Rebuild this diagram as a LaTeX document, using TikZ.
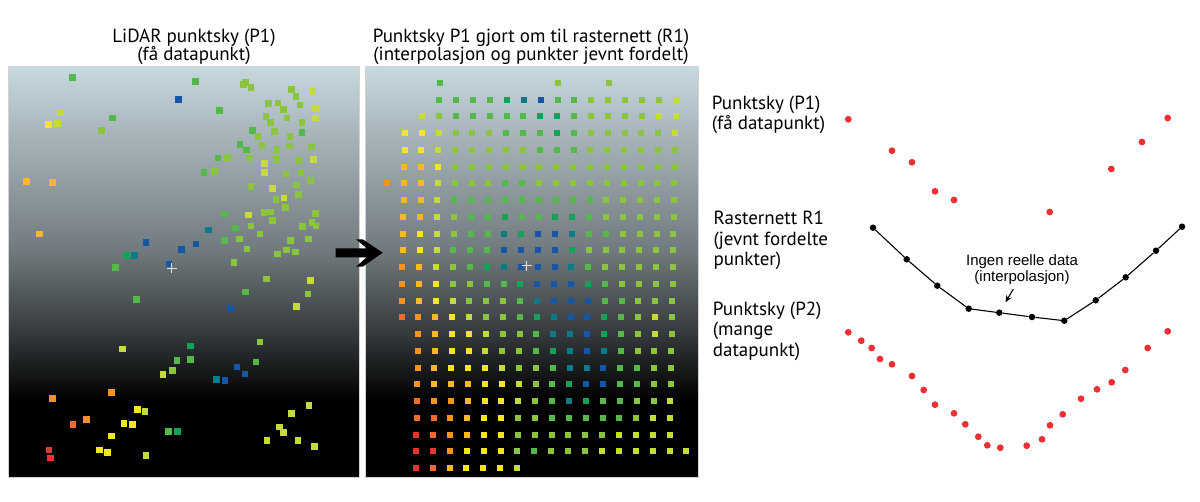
\documentclass[tikz,border=0pt]{standalone}
\usepackage{fontspec}
\setmainfont{PT Sans}
\newfontfamily\helv{Liberation Sans}
\usepackage{tikz}
\usetikzlibrary{arrows.meta}
\definecolor{cR}{HTML}{E8342E}
\definecolor{cO}{HTML}{F26A2C}
\definecolor{cA}{HTML}{F7931E}
\definecolor{cM}{HTML}{FBB72B}
\definecolor{cY}{HTML}{F3E524}
\definecolor{cW}{HTML}{C6DB3A}
\definecolor{cL}{HTML}{8BC540}
\definecolor{cG}{HTML}{55B949}
\definecolor{cE}{HTML}{12A358}
\definecolor{cT}{HTML}{0C7A87}
\definecolor{cB}{HTML}{1556A6}
\definecolor{skytop}{HTML}{C7D8DF}
\definecolor{skymid}{HTML}{717A7E}
\definecolor{skylow}{HTML}{33383B}
\definecolor{dotred}{HTML}{EE3035}
\tikzset{
  panelframe/.style = {draw=gray!35,line width=0.8pt},
  titletext/.style  = {font=\fontsize{19}{18.5}\selectfont,align=center,inner sep=0pt},
  sidetext/.style   = {font=\fontsize{19}{20.5}\selectfont,align=left,inner sep=0pt,anchor=west},
  notetext/.style   = {font=\helv\fontsize{15}{16.7}\selectfont,align=center,inner sep=0pt},
  rasterdot/.style  = {circle,fill=black,minimum size=6.5pt,inner sep=0pt},
  notearr/.style    = {-{Stealth[length=7pt,width=6pt]},line width=1.1pt},
  crosshair/.style  = {white!75!gray,line width=0.8pt}
}
\newcommand{\lidarsq}[3]{\fill[c#3] (#1-3.25,#2-3.25) rectangle ++(6.5,6.5);}
\newcommand{\gridsq}[3]{\fill[c#3] ({388.5+16.9*(#2)-0.3*(#1)-3},{99.5+16.75*(#1)-3}) rectangle ++(6,6);}
\newcommand{\skypanel}[2]{%
  \shade[top color=skytop,bottom color=skymid] (#1,66) rectangle (#2,250);
  \shade[top color=skymid,bottom color=skylow] (#1,250) rectangle (#2,335);
  \shade[top color=skylow,bottom color=black] (#1,335) rectangle (#2,400);
  \fill[black] (#1,400) rectangle (#2,477);
  \draw[panelframe] (#1,66) rectangle (#2,477);
}

\begin{document}
\begin{tikzpicture}[x=1pt,y=-1pt]
  \useasboundingbox (0,0) rectangle (1200,501);
  \skypanel{8.3}{359}
  \skypanel{365.5}{698.3}

  \node[titletext] (title1) at (194,47) {LiDAR punktsky (P1)\\(få datapunkt)};
  \node[titletext] (title2) at (531,47) {Punktsky P1 gjort om til rasternett (R1)\\(interpolasjon og punkter jevnt fordelt)};

  % P1: scattered points
  \foreach \x/\y/\k in {72.3/77.7/G,195.7/81.3/G,178.3/99.3/B,243.3/84.7/L,245.3/82.7/L,251/87.7/L,
      291.7/89.3/L,312.7/91.3/W,296/96.3/L,268.7/103.7/L,278/103/L,283.7/109.7/L,300/105/L,
      315.3/109/W,219.3/110.3/G,266/116.3/L,287/118/L,315.3/118/W,270.7/122.7/L,302/122.7/L,
      60.3/112.3/W,112.7/118/G,48.3/124.7/Y,57.7/123.3/W,101.7/130.3/L,252.7/130.7/G,258/136.3/L,
      274.7/131.7/L,290/136.3/L,302/132.3/G,240/144.3/G,262/145.7/L,246.3/150/G,277/149.7/L,
      289.3/146/L,311.3/147/L,218/158/G,227.3/157.7/L,249.3/158/L,276.3/159.3/L,299/160.7/L,
      313.7/159.3/W,264.3/163.3/W,204/172.3/G,214.7/171.7/L,264.3/172.3/W,286/174/L,301/172.7/L,
      310.7/180.7/L,26.7/181.7/M,52.7/182.7/M,251/186.3/L,272.7/188.7/W,296.7/185/L,298.3/194.3/L,
      276/199.3/L,284/198/W,285.7/207.7/L,224.7/214/G,248.3/215/W,264/212.3/L,270.7/212/L,
      315.3/213.7/L,272.7/220.3/L,208.7/230/T,235.7/228/G,251/226/L,302.7/226.7/L,312/222.7/L,
      316/226/L,39.3/234/M,260/234/L,146/242.7/B,196/244/B,224.3/240.3/G,239.3/239/L,290.7/240.3/L,
      308.7/239/L,181.3/249.3/B,247/249/L,277.3/254/L,286.7/250/L,295.3/252/L,126.3/255.3/E,
      134.3/255.7/T,169/264/B,115.7/267.3/G,234/262.3/L,266.3/279/L,310.3/280.7/W,245.7/292/G,
      308/294/L,136.3/299.3/G,230.7/308.3/B,296.3/306.3/W,260/342/L,122.3/349/W,190.7/346/E,
      177/360.3/G,190.7/359.7/G,256/362/G,163/374.7/W,172.3/370.7/L,237/367/B,245/374/B,
      216.7/379.7/T,225/380.3/B,52.3/398.3/A,111.3/392.7/A,309/405.7/W,291.7/413.7/W,137.3/409.3/Y,
      145/411.7/W,86.3/419.7/A,73/424.3/O,124/423.7/Y,132.7/424.7/Y,168.7/431.3/G,177.7/431.3/E,
      279.3/427/W,283.7/432.7/W,111.7/436/Y,267/440.3/W,298/440.7/W,314.3/446.7/W,49/450/R,
      50.7/458/R,99.3/450/Y,107.3/452.3/Y,146/455.7/W}
    {\lidarsq{\x}{\y}{\k}}
  \draw[crosshair] (166.7,268.3) -- (176.7,268.3) (171.7,263.3) -- (171.7,273.3);

  % R1: raster grid
  \gridsq{-1}{3}{G} \gridsq{-1}{10}{L} \gridsq{-1}{13}{L}
  \foreach \r/\c/\row in {
      0/3/{G,G,G,G,E,T,B,G,G,L,L,L,L,L,W},
      1/2/{W,L,G,G,G,G,G,E,E,G,L,L,L,L,W,W},
      2/1/{Y,Y,W,L,L,L,G,G,G,E,G,L,L,L,L,L,W},
      3/1/{Y,Y,W,L,L,L,L,L,G,G,G,L,L,L,L,L,L},
      4/1/{M,M,Y,L,L,L,L,L,L,L,L,L,L,L,L,L,L},
      5/0/{A,M,M,W,L,L,L,G,G,L,L,L,L,L,L,L,L,L},
      6/1/{M,M,W,G,G,G,G,G,G,G,G,G,L,L,L,L,L},
      7/1/{M,M,W,L,G,G,E,G,G,E,E,G,L,L,L,L,L},
      8/1/{M,Y,W,L,G,G,T,E,B,B,T,G,G,L,L,L,L},
      9/1/{M,Y,W,G,G,G,B,B,B,B,E,L,L,L,L,L,L},
      10/1/{A,M,W,L,G,E,T,B,B,B,T,G,L,L,L,L,L},
      11/1/{A,M,Y,L,L,G,G,E,B,B,B,E,G,L,L,L,L},
      12/1/{A,M,Y,W,L,L,L,G,T,B,B,B,G,G,L,L,L},
      13/1/{O,A,M,Y,W,L,L,G,E,T,B,B,E,G,L,W,L},
      14/2/{A,M,Y,Y,W,L,L,G,T,T,B,E,G,L,W,L},
      15/2/{A,M,Y,Y,W,L,L,G,E,T,B,T,G,L,L,L},
      16/2/{A,M,Y,Y,Y,W,L,L,G,T,T,B,G,G,L,L},
      17/2/{A,M,M,M,Y,Y,W,L,G,E,B,B,G,G,L,L},
      18/2/{O,A,A,M,Y,Y,W,L,G,T,E,G,G,L,L,W},
      19/2/{O,O,A,M,Y,Y,L,L,G,G,G,G,G,L,W,W},
      20/2/{R,O,A,M,Y,Y,L,L,L,L,L,L,W,W,W,W},
      21/2/{R,R,A,Y,Y,Y,L,G,L,L,L,W,W,W,W,W,W},
      22/2/{R,O,M,Y,Y,Y,W}}
    \foreach \k [count=\i from 0] in \row {\gridsq{\r}{\c+\i}{\k}};
  \draw[crosshair] (521.7,265.7) -- (531.7,265.7) (526.7,260.7) -- (526.7,270.7);

  \fill[black] (335.7,248.3) -- (366.7,248.3) -- (356,239.3) -- (362.7,239.3) -- (382.7,252.7)
    -- (362.7,266.7) -- (356,266.7) -- (366.7,257.3) -- (335.7,257.3) -- cycle;

  % profile sketch
  \node[sidetext] (p1txt) at (711.7,115) {Punktsky (P1)\\(få datapunkt)};
  \node[sidetext] (r1txt) at (713.3,240.5) {Rasternett R1\\(jevnt fordelte\\punkter)};
  \node[sidetext] (p2txt) at (712.7,331) {Punktsky (P2)\\(mange\\datapunkt)};

  \foreach \x/\y in {848.3/119.3,892/150.7,912/162.3,935/191.3,954/200,1049.7/212,
      1111.3/169,1142/142,1167.7/118}
    \fill[dotred] (\x,\y) circle (3.4pt);
  \foreach \x/\y in {848.3/332.3,861.3/340.7,871.7/348,880/359,892/364.3,912/376,923.7/390,
      935/404.7,954/413.3,965.3/424.3,978.3/436.7,987.3/445.3,1000.3/447.7,1026.7/445.7,
      1042/439.3,1050/425.3,1062.7/414.3,1081/398.7,1097/389.3,1111.7/382.3,1125.3/370,
      1147.7/348,1167.7/331.3}
    \fill[dotred] (\x,\y) circle (3.4pt);

  \foreach \x/\y [count=\i] in {873/227.7,906.7/259.3,937.3/285.7,968.7/308.7,999.3/312.7,
      1032/317,1064.3/320.7,1095.7/300.3,1125.7/277.3,1156/250.7,1182/226.7}
    \node[rasterdot] (r\i) at (\x,\y) {};
  \draw[line width=1.1pt] (r1) -- (r2) -- (r3) -- (r4) -- (r5) -- (r6) -- (r7) -- (r8)
    -- (r9) -- (r10) -- (r11);

  \node[notetext] (interp) at (1022,269.5) {Ingen reelle data\\(interpolasjon)};
  \draw[notearr,shorten >=8.7pt] ([xshift=-8.7pt,yshift=-4pt]interp.south) -- (r5);
\end{tikzpicture}
\end{document}
